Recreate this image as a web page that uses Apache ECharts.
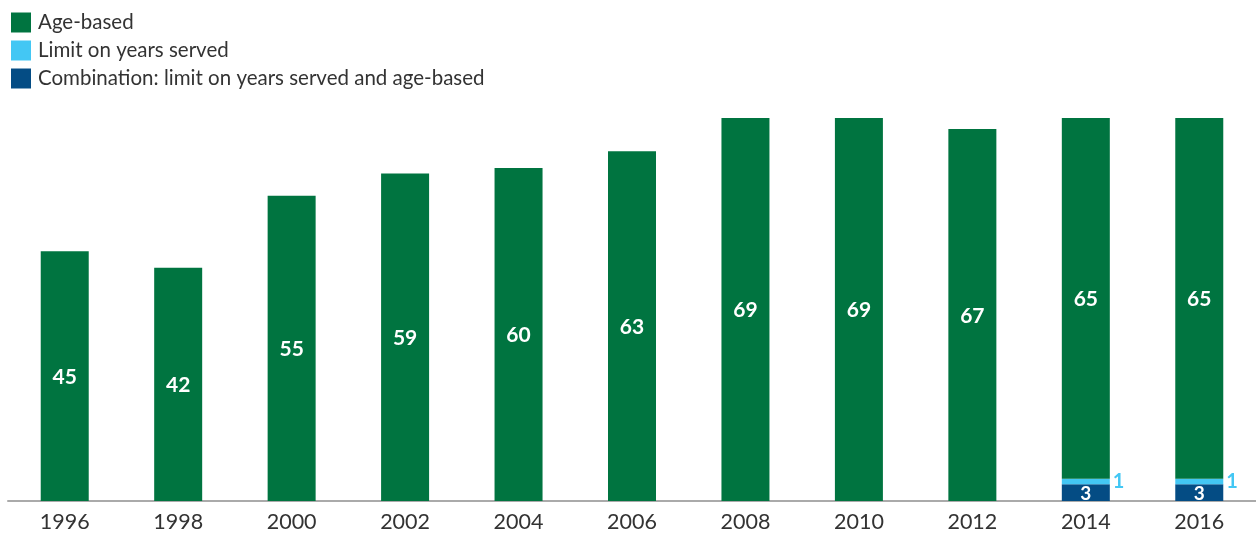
<!DOCTYPE html>
<html><head><meta charset="utf-8">
<script src="https://cdn.jsdelivr.net/npm/echarts@6/dist/echarts.min.js"></script>
<style>html,body{margin:0;padding:0;background:#fff}#c{width:1256px;height:533px}</style>
</head><body><div id="c"></div>
<script>
const categories = ['1996','1998','2000','2002','2004','2006','2008','2010','2012','2014','2016'];
const ageBased = [45,42,55,59,60,63,69,69,67,65,65];
const limitYears = [0,0,0,0,0,0,0,0,0,1,1];
const combination = [0,0,0,0,0,0,0,0,0,3,3];

const FONT = 'Lato';
const chart = echarts.init(document.getElementById('c'));
chart.setOption({
  animation: false,
  textStyle: {fontFamily: FONT},
  legend: {
    left: 11, top: 12, padding: 0, orient: 'vertical', itemWidth: 20, itemHeight: 20, itemGap: 7,
    icon: 'rect',
    textStyle: {fontSize: 20.5, color: '#333', fontFamily: FONT, padding: [0,0,0,2]},
    data: ['Age-based','Limit on years served','Combination: limit on years served and age-based']
  },
  grid: {left: 8, right: 0, top: 118, bottom: 31.5},
  xAxis: {
    type: 'category', data: categories,
    axisLine: {lineStyle: {color: '#aaa', width: 2}},
    axisTick: {show: false},
    axisLabel: {fontSize: 21.5, color: '#333', margin: 10, fontFamily: FONT}
  },
  yAxis: {type: 'value', min: 0, max: 69, show: false, splitLine: {show: false}},
  series: [
    {
      name: 'Combination: limit on years served and age-based', type: 'bar', stack: 's', barWidth: 48,
      itemStyle: {color: '#044C84'},
      data: combination.map(v => v || null),
      label: {show: true, position: 'inside', offset: [0, 1], color: '#fff', fontSize: 19, fontWeight: 'bold', fontFamily: FONT}
    },
    {
      name: 'Limit on years served', type: 'bar', stack: 's', barWidth: 48,
      itemStyle: {color: '#43C7F4'},
      data: limitYears.map(v => v || null),
      label: {show: true, position: 'right', distance: 3, color: '#43C7F4', fontSize: 20, fontWeight: 'bold', fontFamily: FONT}
    },
    {
      name: 'Age-based', type: 'bar', stack: 's', barWidth: 48,
      itemStyle: {color: '#007440'},
      data: ageBased,
      label: {show: true, position: 'inside', offset: [0, 1], color: '#fff', fontSize: 21, fontWeight: 'bold', fontFamily: FONT}
    }
  ]
});
</script></body></html>
